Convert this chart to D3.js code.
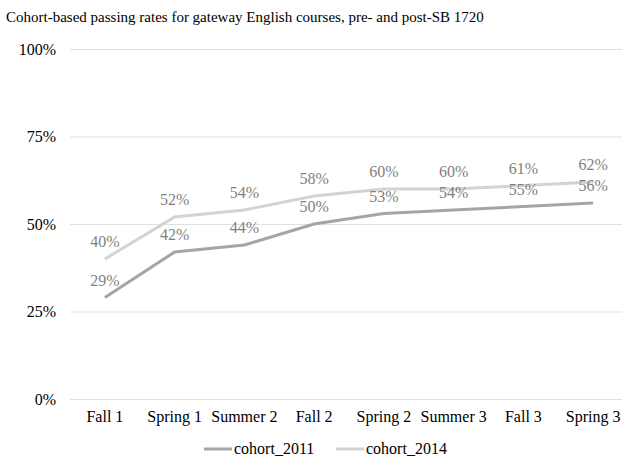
<!DOCTYPE html>
<html>
<head>
<meta charset="utf-8">
<script src="https://cdn.jsdelivr.net/npm/d3@7"></script>
<style>
  body { margin: 0; background: #fff; }
</style>
</head>
<body>
<div id="chart-area"></div>
<script>
// data
var categories = ["Fall 1", "Spring 1", "Summer 2", "Fall 2", "Spring 2", "Summer 3", "Fall 3", "Spring 3"];
var cohort2011 = [29, 42, 44, 50, 53, 54, 55, 56];
var cohort2014 = [40, 52, 54, 58, 60, 60, 61, 62];
var yTicks = [0, 25, 50, 75, 100];

var series = [
    { name: "cohort_2011", values: cohort2011, color: "#a5a5a5" },
    { name: "cohort_2014", values: cohort2014, color: "#d3d3d3" }
];

var width = 622, height = 461;
var serif = "Liberation Serif, Tinos, Times New Roman, serif";

var svg = d3.select("#chart-area").append("svg")
    .attr("width", width)
    .attr("height", height)
    .attr("font-family", serif);

var x = d3.scaleBand()
    .domain(categories)
    .range([70, 628]);

var y = d3.scaleLinear()
    .domain([0, 100])
    .range([399, 49]);

// title
svg.append("text")
    .attr("x", 6)
    .attr("y", 22)
    .attr("font-size", 15)
    .attr("fill", "#000")
    .text("Cohort-based passing rates for gateway English courses, pre- and post-SB 1720");

// gridlines + y labels
var yAxis = svg.append("g")
    .attr("transform", "translate(70,0)")
    .call(d3.axisLeft(y).tickValues(yTicks).tickSize(-560).tickPadding(14)
        .tickFormat(function (d) { return d + "%"; }));
yAxis.attr("font-family", serif).attr("font-size", 16);
yAxis.select(".domain").remove();
yAxis.selectAll(".tick line").attr("stroke", "#e0e0e0").attr("stroke-width", 1);
yAxis.selectAll(".tick text").attr("fill", "#000");

// x labels
var xAxis = svg.append("g")
    .attr("transform", "translate(0,399)")
    .call(d3.axisBottom(x).tickSize(0).tickPadding(12));
xAxis.attr("font-family", serif).attr("font-size", 16);
xAxis.select(".domain").remove();
xAxis.selectAll(".tick text").attr("fill", "#000");

var line = d3.line()
    .x(function (d, i) { return x(categories[i]) + x.bandwidth() / 2; })
    .y(function (d) { return y(d); });

// lines
svg.selectAll(".series")
    .data(series)
    .enter().append("path")
    .attr("class", "series")
    .attr("fill", "none")
    .attr("stroke", function (d) { return d.color; })
    .attr("stroke-width", 3)
    .attr("d", function (d) { return line(d.values); });

// data labels
series.forEach(function (s) {
    svg.selectAll(".lbl-" + s.name)
        .data(s.values)
        .enter().append("text")
        .attr("class", "lbl-" + s.name)
        .attr("x", function (d, i) { return x(categories[i]) + x.bandwidth() / 2; })
        .attr("y", function (d) { return y(d) - 12; })
        .attr("text-anchor", "middle")
        .attr("font-size", 16)
        .attr("fill", "#7f7f7f")
        .text(function (d) { return d + "%"; });
});

// legend
var legend = svg.append("g")
    .attr("transform", "translate(204,449)");
var item = legend.selectAll(".legend")
    .data(series)
    .enter().append("g")
    .attr("class", "legend")
    .attr("transform", function (d, i) { return "translate(" + (i * 132) + ",0)"; });
item.append("line")
    .attr("x1", 0).attr("x2", 28)
    .attr("y1", 0).attr("y2", 0)
    .attr("stroke", function (d) { return d.color; })
    .attr("stroke-width", 3);
item.append("text")
    .attr("x", 30)
    .attr("y", 5)
    .attr("font-size", 16)
    .attr("fill", "#000")
    .text(function (d) { return d.name; });

svg.selectAll("text").attr("font-family", serif);
</script>
</body>
</html>
